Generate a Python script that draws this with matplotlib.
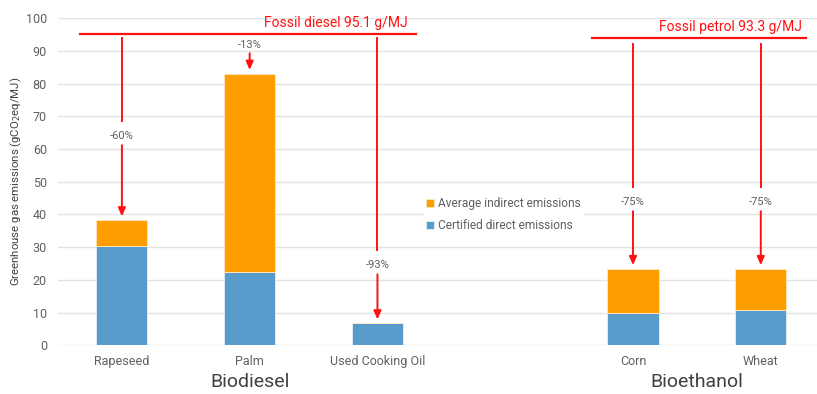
import matplotlib.pyplot as plt

plt.rcParams['font.family'] = ['Roboto', 'DejaVu Sans']

# === Data ===
crops = ['Rapeseed', 'Palm', 'Used Cooking Oil', 'Corn', 'Wheat']
positions = [0, 1, 2, 4, 5]
direct = [30.4, 22.4, 6.7, 9.8, 10.9]
indirect = [7.8, 60.6, 0.0, 13.5, 12.4]
savings = ['-60%', '-13%', '-93%', '-75%', '-75%']
label_y = [64, 91.8, 24.5, 43.8, 43.8]
fossil_diesel = 95.1
fossil_petrol = 93.3

BLUE = '#579CCB'
ORANGE = '#FF9E00'
RED = '#FF1010'
GREY = '#606060'

fig = plt.figure(figsize=(8.17, 3.94), dpi=100)
ax = fig.add_axes([0.071, 0.1236, 0.929, 0.83])

ax.bar(positions, direct, width=0.4, color=BLUE, edgecolor='#E8F0F8', linewidth=0.6,
       label='Certified direct emissions', zorder=3)
ax.bar(positions, indirect, width=0.4, bottom=direct, color=ORANGE, edgecolor='#FFE8C0',
       linewidth=0.6, label='Average indirect emissions', zorder=3)

ax.set_xlim(-0.5, 5.44)
ax.set_ylim(0, 100)
ax.set_yticks(range(0, 101, 10))
ax.set_xticks(positions)
ax.set_xticklabels(crops)
ax.tick_params(length=0, labelsize=9, colors=GREY)
ax.tick_params(axis='x', pad=7)
ax.tick_params(axis='y', pad=8)
ax.grid(axis='y', color='#E3E3E3', linewidth=1, zorder=0)
for s in ax.spines.values():
    s.set_visible(False)
ax.set_ylabel('Greenhouse gas emissions (gCO$_2$eq/MJ)', fontsize=8.2, color='#404040', labelpad=1)

# fossil reference lines
ax.plot([-0.33, 2.3], [fossil_diesel, fossil_diesel], color=RED, lw=1.6, zorder=4)
ax.text(2.24, fossil_diesel + 1.3, f'Fossil diesel {fossil_diesel} g/MJ', color=RED,
        ha='right', va='bottom', fontsize=10)
ax.plot([3.68, 5.35], [fossil_petrol + 0.6, fossil_petrol + 0.6], color=RED, lw=1.6, zorder=4)
ax.text(5.32, fossil_petrol + 1.9, f'Fossil petrol {fossil_petrol} g/MJ', color=RED,
        ha='right', va='bottom', fontsize=10)

# saving arrows
tops = [d + i for d, i in zip(direct, indirect)]
for x, lab, ly, top in zip(positions, savings, label_y, tops):
    ref = fossil_diesel if x < 3 else fossil_petrol
    ax.text(x, ly, lab, ha='center', va='center', fontsize=8, color=GREY, zorder=5)
    long_arrow = ref - ly > 6
    if long_arrow:
        ax.plot([x, x], [ref - 1.2, ly + 4.5], color=RED, lw=1.4, zorder=4)
    ax.annotate('', xy=(x, top + 1.2), xytext=(x, ly - 2.8 if long_arrow else ly - 2.5),
                arrowprops=dict(arrowstyle='-|>,head_length=0.5,head_width=0.22',
                                color=RED, lw=1.4, shrinkA=0, shrinkB=0), zorder=4)

# legend
handles, labels = ax.get_legend_handles_labels()
leg = ax.legend(handles[::-1], labels[::-1], loc='upper left', bbox_to_anchor=(0.474, 0.478),
                frameon=True, framealpha=1, edgecolor='white', fontsize=8.6,
                handlelength=0.7, handleheight=0.7, handletextpad=0.3, labelspacing=0.75,
                borderpad=0.2)
for t in leg.get_texts():
    t.set_color(GREY)

# group labels
ax.text(1, -0.113, 'Biodiesel', transform=ax.get_xaxis_transform(), ha='center',
        va='center', fontsize=14, color='#404040')
ax.text(4.5, -0.113, 'Bioethanol', transform=ax.get_xaxis_transform(), ha='center',
        va='center', fontsize=14, color='#404040')

fig.savefig('out.png', dpi=100)
